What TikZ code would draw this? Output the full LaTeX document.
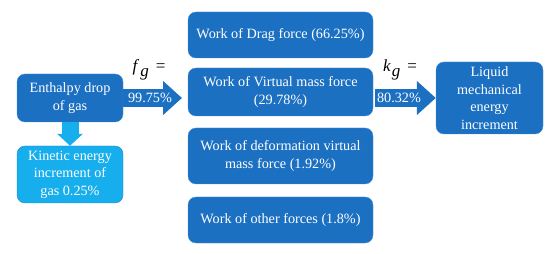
\documentclass[tikz,border=0pt]{standalone}
\usepackage{fontspec}
\setmainfont{Liberation Serif}
\usetikzlibrary{arrows.meta,positioning}
\usepackage{xcolor}
\definecolor{boxblue}{RGB}{28,112,194}
\definecolor{boxline}{RGB}{72,142,212}
\definecolor{skyblue}{RGB}{22,174,236}
\definecolor{skyline}{RGB}{48,128,204}

\begin{document}
\begin{tikzpicture}[x=1pt, y=-1pt,
    blk/.style={draw=boxline, fill=boxblue, rounded corners=8pt, align=center, text=white, inner sep=0pt, font=\fontsize{14.2}{17.5}\selectfont},
    lite/.style={blk, draw=skyline, fill=skyblue},
    fatarrow/.style={line width=18pt, color=boxblue, -{Triangle[length=19pt, width=33pt]}},
    lbl/.style={font=\fontsize{14.2}{17.5}\selectfont}
]
    \useasboundingbox (0,0) rectangle (550,254);

    \node[blk, minimum width=106, minimum height=48] (enth) at (70,98) {Enthalpy drop\\of gas};
    \node[lite, minimum width=106, minimum height=57] (kin) at (70,174.5) {Kinetic energy\\increment of\\gas 0.25\%};

    \node[blk, minimum width=185, minimum height=46] (drag) at (280.5,35) {Work of Drag force (66.25\%)};
    \node[blk, minimum width=185, minimum height=48] (vmass) at (280.5,92) {Work of Virtual mass force\\(29.78\%)};
    \node[blk, minimum width=185, minimum height=56] (dvmass) at (280.5,156) {Work of deformation virtual\\mass force (1.92\%)};
    \node[blk, minimum width=185, minimum height=46] (other) at (280.5,220) {Work of other forces (1.8\%)};

    \node[blk, minimum width=107, minimum height=72] (liq) at (489.5,98) {Liquid\\mechanical\\energy\\increment};

    \coordinate (fgtip) at (182,98);
    \coordinate (kgstart) at (375,98);

    \draw[line width=17pt, color=skyblue, -{Triangle[length=12pt, width=25pt]}] (enth.south) -- (kin.north);
    \draw[fatarrow] (enth.east) -- (fgtip);
    \draw[fatarrow] (kgstart) -- (liq.west);

    \node[lbl, text=white] (fgval) at (150,98) {99.75\%};
    \node[lbl, text=white] (kgval) at (399,98) {80.32\%};
    \node[lbl] (fg) at (149,70) {\fontsize{17}{17}\selectfont\textit{f}\kern1pt\raisebox{-5pt}{\textit{g}}\ \,=};
    \node[lbl] (kg) at (400,70) {\fontsize{17}{17}\selectfont\textit{k}\kern1pt\raisebox{-5pt}{\textit{g}}\ \,=};
\end{tikzpicture}
\end{document}
